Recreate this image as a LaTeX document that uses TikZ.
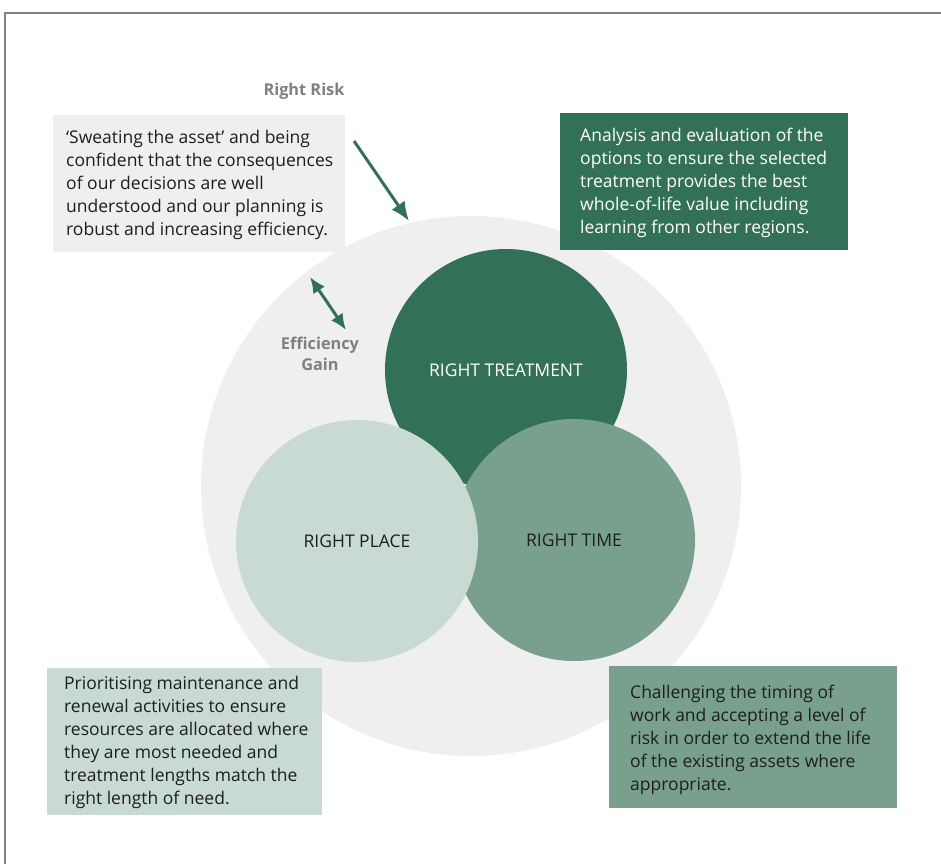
\documentclass[tikz,border=0pt]{standalone}
\usepackage{fontspec}
\setmainfont{Open Sans}
\usetikzlibrary{positioning}
\usetikzlibrary{arrows.meta}
\definecolor{darkg}{HTML}{327058}
\definecolor{midg}{HTML}{78A08D}
\definecolor{lightg}{HTML}{C9DAD3}
\definecolor{paleg}{HTML}{EFEFEF}
\definecolor{textg}{HTML}{1E1E1E}
\definecolor{labelg}{HTML}{808080}
\tikzset{
    ring/.style = {circle, draw=none, minimum size=242pt, inner sep=0pt, font=\fontsize{17.5}{20}\selectfont},
    panel/.style = {rectangle, draw=none, anchor=north west, inner sep=0pt},
    note/.style = {anchor=west, align=left, inner sep=0pt,
                   font=\fontsize{17.5}{23}\selectfont, text=textg},
    tag/.style = {align=center, text=labelg, font=\fontsize{16.3}{21}\selectfont\bfseries},
    edgen/.style = {-{Latex[length=19pt,width=16pt]}, line width=3pt, darkg},
    edged/.style = {{Latex[length=16pt,width=14pt]}-{Latex[length=16pt,width=14pt]}, line width=3pt, darkg}, % both ways
    frame/.style = {line width=1.5pt, draw=gray}
}

\begin{document}
\begin{tikzpicture}[x=1pt,y=1pt]
\useasboundingbox (0,0) rectangle (941,-864);
\draw[frame] (5,-864) -- (5,-13) -- (941,-13);
%
\node[circle, fill=paleg, minimum size=540pt, inner sep=0pt] at (471,-486) (big) {};
\node[ring, fill=darkg, text=white] at (506,-370) (treat) {RIGHT TREATMENT};
\node[ring, fill=midg, text=textg] at (574,-540) (time) {RIGHT TIME};
\node[ring, fill=lightg, text=textg] at (357,-541) (place) {RIGHT PLACE};
%
\node[panel, fill=paleg, minimum width=292pt, minimum height=137pt] at (53,-115) (riskbox) {};
\node[panel, fill=darkg, minimum width=288pt, minimum height=137pt] at (560,-113) (analysisbox) {};
\node[panel, fill=lightg, minimum width=275pt, minimum height=147pt] at (47,-668) (priorbox) {};
\node[panel, fill=midg, minimum width=288pt, minimum height=142pt] at (609,-666) (timingbox) {};
%
\node[note] at ([xshift=13pt,yshift=-1pt]riskbox.west) (risk)
  {‘Sweating the asset’ and being\\confident that the consequences\\of our decisions are well\\understood and our planning is\\robust and increasing efficiency.};
\node[note, text=white] at ([xshift=20pt,yshift=-1pt]analysisbox.west) (analysis)
  {Analysis and evaluation of the\\options to ensure the selected\\treatment provides the best\\whole-of-life value including\\learning from other regions.};
\node[note] at ([xshift=17pt,yshift=-1pt]priorbox.west) (prior)
  {Prioritising maintenance and\\renewal activities to ensure\\resources are allocated where\\they are most needed and\\treatment lengths match the\\right length of need.};
\node[note] at ([xshift=21pt,yshift=-3pt]timingbox.west) (timing)
  {Challenging the timing of\\work and accepting a level of\\risk in order to extend the life\\of the existing assets where\\appropriate.};
%
\node[tag] at (304,-91) (risklbl) {Right Risk};
\node[tag] at (320,-354) (gainlbl) {Efficiency\\Gain};
%
\coordinate (rt) at (354,-141);
\coordinate (rh) at (409,-221);
\coordinate (ga) at (310,-277);
\coordinate (gb) at (346,-330);
\draw[edgen] (rt) -- (rh);
\draw[edged] (ga) -- (gb);

\end{tikzpicture}
\end{document}
